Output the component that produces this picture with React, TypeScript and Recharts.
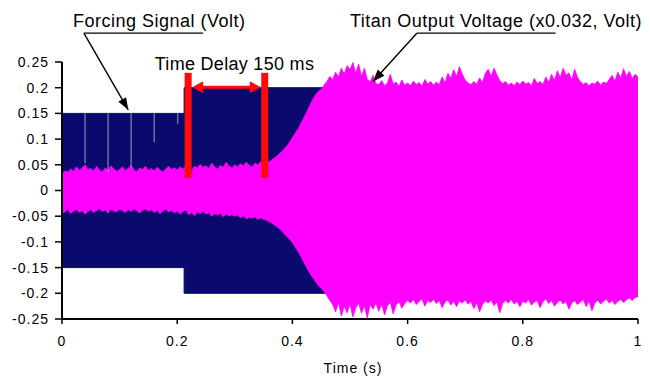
import React from 'react';
import { ComposedChart, Area, XAxis, YAxis, ReferenceLine, ReferenceDot, Label } from 'recharts';

// Sampling interval of the output-voltage envelope (s)
const SAMPLE_STEP = 0.005;

// Titan output voltage (scaled x0.032): upper envelope, one value per 5 ms
const titanUpper = [
  0.034, 0.038, 0.036, 0.042, 0.037, 0.046, 0.039, 0.044, 0.050, 0.041,
  0.043, 0.038, 0.047, 0.040, 0.036, 0.044, 0.039, 0.048, 0.042, 0.037,
  0.041, 0.046, 0.039, 0.043, 0.049, 0.040, 0.036, 0.044, 0.041, 0.047,
  0.039, 0.043, 0.038, 0.045, 0.040, 0.036, 0.042, 0.047, 0.041, 0.044,
  0.040, 0.046, 0.042, 0.048, 0.043, 0.039, 0.047, 0.044, 0.051, 0.045,
  0.048, 0.043, 0.053, 0.046, 0.041, 0.049, 0.045, 0.055, 0.047, 0.044,
  0.050, 0.046, 0.052, 0.048, 0.055, 0.049, 0.045, 0.053, 0.050, 0.056,
  0.054, 0.058, 0.055, 0.061, 0.064, 0.069, 0.074, 0.080, 0.086, 0.094,
  0.103, 0.112, 0.120, 0.131, 0.142, 0.153, 0.165, 0.176, 0.186, 0.193,
  0.197, 0.205, 0.212, 0.222, 0.216, 0.230, 0.221, 0.238, 0.226, 0.243,
  0.235, 0.249, 0.228, 0.246, 0.222, 0.238, 0.216, 0.212, 0.224, 0.208,
  0.206, 0.214, 0.204, 0.209, 0.226, 0.207, 0.211, 0.203, 0.215, 0.205,
  0.209, 0.204, 0.213, 0.206, 0.210, 0.203, 0.216, 0.207, 0.212, 0.205,
  0.211, 0.206, 0.221, 0.209, 0.228, 0.218, 0.235, 0.222, 0.241, 0.226,
  0.215, 0.209, 0.206, 0.212, 0.207, 0.219, 0.210, 0.228, 0.236, 0.222,
  0.238, 0.225, 0.214, 0.208, 0.212, 0.205, 0.209, 0.204, 0.211, 0.206,
  0.213, 0.207, 0.210, 0.204, 0.218, 0.208, 0.212, 0.206, 0.221, 0.210,
  0.226, 0.214, 0.233, 0.219, 0.238, 0.224, 0.229, 0.215, 0.236, 0.220,
  0.212, 0.206, 0.210, 0.204, 0.209, 0.207, 0.213, 0.205, 0.211, 0.208,
  0.216, 0.224, 0.213, 0.230, 0.219, 0.237, 0.222, 0.232, 0.218, 0.226,
  0.221,
];

// Titan output voltage: lower envelope, same sampling
const titanLower = [
  -0.044, -0.042, -0.036, -0.045, -0.040, -0.037, -0.043, -0.039, -0.046, -0.041,
  -0.037, -0.043, -0.039, -0.035, -0.041, -0.038, -0.044, -0.036, -0.040, -0.042,
  -0.036, -0.039, -0.043, -0.037, -0.041, -0.035, -0.040, -0.044, -0.038, -0.036,
  -0.041, -0.037, -0.043, -0.039, -0.045, -0.040, -0.036, -0.042, -0.038, -0.044,
  -0.040, -0.046, -0.041, -0.038, -0.047, -0.043, -0.049, -0.042, -0.045, -0.040,
  -0.046, -0.043, -0.050, -0.045, -0.048, -0.044, -0.051, -0.046, -0.049, -0.047,
  -0.050, -0.048, -0.053, -0.049, -0.055, -0.052, -0.054, -0.051, -0.056, -0.053,
  -0.056, -0.058, -0.061, -0.064, -0.068, -0.072, -0.077, -0.083, -0.089, -0.095,
  -0.101, -0.110, -0.119, -0.129, -0.140, -0.151, -0.160, -0.169, -0.177, -0.185,
  -0.190, -0.197, -0.205, -0.214, -0.222, -0.236, -0.218, -0.244, -0.225, -0.238,
  -0.221, -0.246, -0.228, -0.219, -0.239, -0.224, -0.248, -0.222, -0.231, -0.219,
  -0.235, -0.221, -0.242, -0.224, -0.218, -0.240, -0.223, -0.216, -0.229, -0.220,
  -0.214, -0.219, -0.212, -0.222, -0.216, -0.211, -0.225, -0.214, -0.218, -0.212,
  -0.220, -0.214, -0.228, -0.217, -0.213, -0.223, -0.216, -0.226, -0.215, -0.219,
  -0.213, -0.221, -0.216, -0.230, -0.218, -0.236, -0.222, -0.215, -0.219, -0.213,
  -0.224, -0.217, -0.238, -0.220, -0.214, -0.219, -0.212, -0.221, -0.216, -0.226,
  -0.215, -0.219, -0.212, -0.223, -0.217, -0.214, -0.228, -0.216, -0.211, -0.220,
  -0.214, -0.225, -0.218, -0.213, -0.221, -0.216, -0.231, -0.219, -0.214, -0.222,
  -0.217, -0.212, -0.226, -0.215, -0.234, -0.219, -0.213, -0.221, -0.216, -0.211,
  -0.219, -0.214, -0.222, -0.216, -0.212, -0.218, -0.213, -0.209, -0.214, -0.208,
  -0.207,
];

// Forcing signal: square-wave amplitude steps from 0.15 V to 0.2 V
const forcingTimes = [0, 0.212, 0.212, 0.465];
const forcingAmplitude = [0.15, 0.15, 0.2, 0.2];

// Short dropouts visible inside the forcing band (time, lowest value reached)
const dropoutTimes = [0.04, 0.08, 0.12, 0.16, 0.201];
const dropoutEnds = [0.053, 0.036, 0.046, 0.094, 0.13];

// Delay markers: forcing step and start of output growth (s)
const delayStart = 0.219;
const delayEnd = 0.352;
const delayLabel = 'Time Delay 150 ms';

const xTicks = [0, 0.2, 0.4, 0.6, 0.8, 1];
const yTicks = [-0.25, -0.2, -0.15, -0.1, -0.05, 0, 0.05, 0.1, 0.15, 0.2, 0.25];

const forcingRows = forcingTimes.map((t, i) => ({ t, band: [-forcingAmplitude[i], forcingAmplitude[i]] }));
const titanRows = titanUpper.map((hi, i) => ({ t: +(i * SAMPLE_STEP).toFixed(3), band: [titanLower[i], hi] }));

const FONT = 'Arial, "Liberation Sans", sans-serif';
const NAVY = '#0a0a6e';
const MAGENTA = '#ff00ff';
const RED = '#ff0a0a';

function headPoints(x1: number, y1: number, x2: number, y2: number, len: number, half: number) {
  const a = Math.atan2(y2 - y1, x2 - x1);
  const bx = x2 - len * Math.cos(a);
  const by = y2 - len * Math.sin(a);
  const px = -Math.sin(a) * half;
  const py = Math.cos(a) * half;
  return `${x2},${y2} ${bx + px},${by + py} ${bx - px},${by - py}`;
}

const PointerShape = (p: any) => (
  <g>
    <line x1={p.x1} y1={p.y1} x2={p.x2} y2={p.y2} stroke="#000" strokeWidth={1.4} />
    <polygon points={headPoints(p.x1, p.y1, p.x2, p.y2, 12, 4.5)} fill="#000" />
  </g>
);

const PlainLine = (p: any) => (
  <line x1={p.x1} y1={p.y1} x2={p.x2} y2={p.y2} stroke="#000" strokeWidth={1.2} />
);

const DelayArrowShape = (p: any) => {
  const a = p.x1 + 4;
  const b = p.x2 - 4;
  const mid = (p.x1 + p.x2) / 2;
  return (
    <g>
      <line x1={a + 6} y1={p.y1} x2={b - 6} y2={p.y2} stroke={RED} strokeWidth={3} />
      <polygon points={headPoints(b, p.y1, a, p.y1, 11, 6)} fill={RED} />
      <polygon points={headPoints(a, p.y1, b, p.y1, 11, 6)} fill={RED} />
      <text x={mid + 8} y={p.y1 - 17} textAnchor="middle" fontFamily={FONT} fontSize={18} letterSpacing={0.3} fill="#000">
        {delayLabel}
      </text>
    </g>
  );
};

const textDot = (label: string) => (p: any) => (
  <text x={p.cx} y={p.cy} fontFamily={FONT} fontSize={18} letterSpacing={0.5} fill="#000">
    {label}
  </text>
);

export default function App() {
  return (
    <div style={{ position: 'absolute', left: 0, top: 0, width: 650, height: 378, background: '#fff' }}>
      <ComposedChart width={650} height={378} margin={{ top: 62, right: 12, bottom: 0, left: 12 }}>
        <XAxis
          type="number"
          dataKey="t"
          domain={[0, 1]}
          ticks={xTicks}
          height={59}
          allowDataOverflow
          axisLine={{ stroke: '#000', strokeWidth: 2 }}
          tickLine={{ stroke: '#000', strokeWidth: 1.5 }}
          tickSize={5}
          tickMargin={12}
          tick={{ fontSize: 14, fill: '#000', fontFamily: FONT, letterSpacing: 1 }}
        >
          <Label value="Time (s)" position="insideBottom" offset={5} dx={3} style={{ fontSize: 14, fill: '#000', fontFamily: FONT, letterSpacing: 1 }} />
        </XAxis>
        <YAxis
          type="number"
          domain={[-0.25, 0.25]}
          ticks={yTicks}
          width={50}
          allowDataOverflow
          axisLine={{ stroke: '#000', strokeWidth: 2 }}
          tickLine={{ stroke: '#000', strokeWidth: 1.5 }}
          tickSize={7}
          tickMargin={6}
          tick={{ fontSize: 14, fill: '#000', fontFamily: FONT, letterSpacing: 1 }}
        />
        <Area
          data={forcingRows}
          dataKey="band"
          type="linear"
          stroke={NAVY}
          strokeWidth={1}
          fill={NAVY}
          fillOpacity={1}
          dot={false}
          activeDot={false}
          isAnimationActive={false}
        />
        {dropoutTimes.map((t, i) => (
          <ReferenceLine
            key={`d${i}`}
            segment={[{ x: t, y: 0.15 }, { x: t, y: dropoutEnds[i] }]}
            stroke="#9aa0c8"
            strokeWidth={1}
          />
        ))}
        <Area
          data={titanRows}
          dataKey="band"
          type="linear"
          stroke={MAGENTA}
          strokeWidth={0.8}
          fill={MAGENTA}
          fillOpacity={1}
          dot={false}
          activeDot={false}
          isAnimationActive={false}
        />
        {/* Delay markers */}
        <ReferenceLine segment={[{ x: delayStart, y: 0.024 }, { x: delayStart, y: 0.229 }]} stroke={RED} strokeWidth={7} ifOverflow="visible" />
        <ReferenceLine segment={[{ x: delayEnd, y: 0.024 }, { x: delayEnd, y: 0.229 }]} stroke={RED} strokeWidth={7} ifOverflow="visible" />
        <ReferenceLine segment={[{ x: delayStart, y: 0.201 }, { x: delayEnd, y: 0.201 }]} shape={DelayArrowShape} ifOverflow="visible" />
        {/* Callouts */}
        <ReferenceLine segment={[{ x: 0.038, y: 0.306 }, { x: 0.245, y: 0.306 }]} shape={PlainLine} ifOverflow="visible" />
        <ReferenceLine segment={[{ x: 0.038, y: 0.306 }, { x: 0.115, y: 0.157 }]} shape={PointerShape} ifOverflow="visible" />
        <ReferenceDot x={0.019} y={0.318} shape={textDot('Forcing Signal (Volt)')} ifOverflow="visible" />
        <ReferenceLine segment={[{ x: 0.616, y: 0.306 }, { x: 0.857, y: 0.306 }]} shape={PlainLine} ifOverflow="visible" />
        <ReferenceLine segment={[{ x: 0.616, y: 0.306 }, { x: 0.540, y: 0.212 }]} shape={PointerShape} ifOverflow="visible" />
        <ReferenceDot x={0.5} y={0.318} shape={textDot('Titan Output Voltage (x0.032, Volt)')} ifOverflow="visible" />
      </ComposedChart>
    </div>
  );
}
